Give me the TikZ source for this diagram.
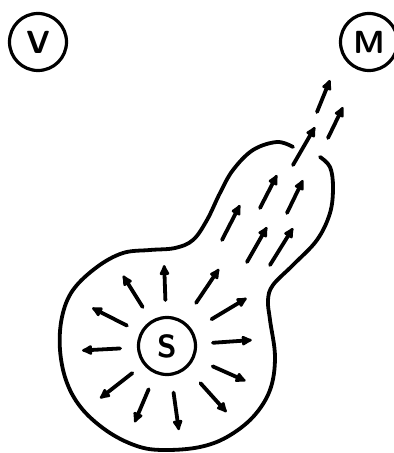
\documentclass[tikz,border=0pt]{standalone}
\usepackage{tikz}
\usetikzlibrary{arrows.meta,calc}

\begin{document}
\begin{tikzpicture}[
    x=1pt, y=1pt,
    body/.style={
      circle,
      draw,
      line width=3.2pt,
      inner sep=0pt,
      minimum size=57pt,
      font=\fontsize{32}{32}\selectfont\sffamily\bfseries
    },
    field/.style={-{Latex[round,length=13pt,width=12pt]}, line width=3.8pt, line cap=round},
    rim/.style={line width=3.8pt, line cap=round, line join=round}
  ]
    \useasboundingbox (0,0) rectangle (394,453);

    \node[body] (V) at (38,411) {V};
    \node[body] (M) at (369,411) {M};
    \node[body] (S) at (167,107) {S};

    % outline, open at the top of the neck
    \draw[rim] plot[smooth, tension=0.6] coordinates {
      (293,306) (277,311) (253,303) (233,283) (220,260) (207,233)
      (193,213) (175,205) (150,203) (123,200) (97,186) (73,163)
      (62,136) (60,103) (67,70) (83,43) (110,20) (140,6) (167,3)
      (200,6) (227,16) (253,36) (270,63) (275,96) (270,133)
      (268,153) (273,168) (293,188) (317,213) (330,240) (333,266)
      (330,286) (320,296)};

    % radial field round S
    \foreach \a/\ra/\rb in {122/46/83, 92/46/81, 56/52/93, 31/52/93,
        4/46/85, -24/50/86, -48/50/89, -82/47/85, -113/47/83,
        -142/44/85, 183/47/85, 153/45/84}
      \draw[field] ($(S)+(\a:\ra)$) -- ($(S)+(\a:\rb)$);

    % stream towards M
    \draw[field] (222,213) -- (240,248);
    \draw[field] (247,191) -- (267,226);
    \draw[field] (270,188) -- (293,225);
    \draw[field] (260,245) -- (277,278);
    \draw[field] (287,240) -- (303,273);
    \draw[field] (293,288) -- (315,326);
    \draw[field] (317,341) -- (330,373);
    \draw[field] (328,315) -- (343,346);
  \end{tikzpicture}
\end{document}
